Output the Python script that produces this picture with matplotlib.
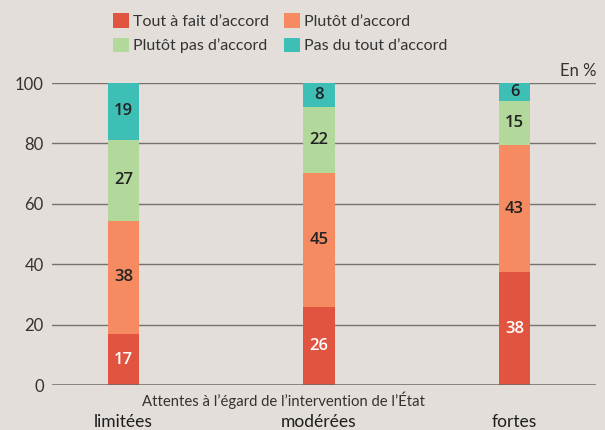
import numpy as np
import matplotlib.pyplot as plt
from matplotlib.patches import Patch

plt.rcParams['font.family'] = ['Lato', 'DejaVu Sans']

categories = ['limitées', 'modérées', 'fortes']
series = ["Tout à fait d’accord", "Plutôt d’accord", "Plutôt pas d’accord", "Pas du tout d’accord"]
tout_a_fait = [17, 26, 38]
plutot = [38, 45, 43]
plutot_pas = [27, 22, 15]
pas_du_tout = [19, 8, 6]
colors = ['#E15440', '#F68B62', '#B2D99B', '#3DBFB6']
label_colors = ['white', '#222222', '#222222', '#222222']

bg = '#E3DED9'
values = np.array([tout_a_fait, plutot, plutot_pas, pas_du_tout], dtype=float)
# bars are drawn normalised to 100 (rounded labels sum to 101-102)
shares = values / values.sum(axis=0) * 100

fig = plt.figure(figsize=(6.05, 4.30), dpi=100, facecolor=bg)
ax = fig.add_axes([52 / 605, 1 - 385 / 430, 544 / 605, 302 / 430])
ax.set_facecolor(bg)

x = np.arange(len(categories))
width = 0.159
bottom = np.zeros(len(categories))
for i in range(len(series)):
    ax.bar(x, shares[i], width, bottom=bottom, color=colors[i], zorder=3)
    for j in range(len(categories)):
        ax.text(x[j], bottom[j] + shares[i][j] / 2, f"{int(values[i][j])}",
                ha='center', va='center', fontsize=12, family=['Open Sans', 'DejaVu Sans'],
                fontweight='semibold', color=label_colors[i], zorder=4)
    bottom += shares[i]

ax.set_xlim(-0.366, 2.417)
ax.set_ylim(0, 100)
ax.set_yticks([0, 20, 40, 60, 80, 100])
for yv in [20, 40, 60, 80, 100]:
    ax.axhline(yv, color='#77726E', lw=1.0, zorder=1)
ax.axhline(0, color='#6E6A66', lw=1.8, zorder=5)

for s in ax.spines.values():
    s.set_visible(False)
ax.tick_params(axis='y', length=0, pad=6, labelsize=12, labelcolor='#333333')
ax.set_xticks(x)
ax.set_xticklabels(categories, fontsize=12.5, color='#1E1E1E')
ax.tick_params(axis='x', length=0, pad=21)

ax.text(0.425, -0.022, "Attentes à l’égard de l’intervention de l’État", transform=ax.transAxes,
        ha='center', va='top', fontsize=10.7, color='#333333')
ax.text(1.0, 1.012, "En %", transform=ax.transAxes, ha='right', va='bottom',
        fontsize=12, color='#333333')

# matplotlib fills legend columns first, so reorder for row-wise reading
order = [0, 2, 1, 3]
handles = [Patch(facecolor=colors[k], edgecolor='none') for k in order]
fig.legend(handles, [series[k] for k in order], loc='upper left',
           bbox_to_anchor=(99 / 605, 1 + 1 / 430),
           ncol=2, frameon=False, fontsize=11.5, handlelength=1.0, handleheight=1.0,
           handletextpad=0.25, columnspacing=0.9, labelspacing=0.55,
           labelcolor='#333333')

fig.savefig('out.png', dpi=100, facecolor=bg)
